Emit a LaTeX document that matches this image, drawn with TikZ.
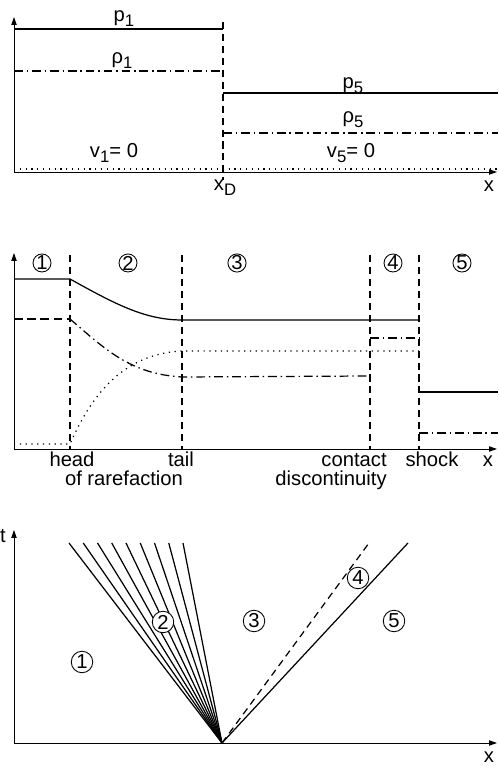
\documentclass[tikz,border=0pt]{standalone}
\usepackage{fontspec}
\setmainfont{Liberation Sans}
\usetikzlibrary{arrows.meta}
\newcommand{\lowsub}[1]{\raisebox{-0.45ex}{\fontsize{9.5}{11}\selectfont#1}}
\tikzset{
  sod/axis/.style={-{Triangle[length=4.5pt,width=3pt]}, line width=0.5pt},
  sod/pres/.style={line width=0.7pt},
  sod/dens/.style={line width=0.7pt,
    dash pattern=on 5pt off 2.2pt on 0.8pt off 2.2pt},
  sod/ldash/.style={line width=0.7pt, dash pattern=on 5pt off 2.5pt},
  sod/vel/.style={line width=0.7pt, dash pattern=on 0.7pt off 2.6pt},
  sod/front/.style={line width=0.7pt, dash pattern=on 4pt off 2.8pt},
  sod/reg/.style={circle, draw, line width=0.5pt, inner sep=0pt,
    minimum size=3.6mm, font=\fontsize{11.5}{13}\selectfont},
  sod/regb/.style={sod/reg, minimum size=4.3mm, fill=white},
  sod/lbl/.style={anchor=base, inner sep=0pt,
    font=\fontsize{11.5}{13}\selectfont}
}

\begin{document}
\begin{tikzpicture}[x=0.2mm, y=0.2mm]
  \useasboundingbox (0,0) rectangle (498,769);

  % initial state
  \coordinate (o1) at (14,597);
  \draw[sod/axis] (o1) -- (14,752);
  \draw[sod/axis] (o1) -- (497,597);
  \draw[sod/front] (223,747) -- (223,589);
  \draw[sod/pres] (14,740) -- (223,740);
  \draw[sod/pres] (223,676) -- (498,676);
  \draw[sod/dens] (14,698) -- (223,698);
  \draw[sod/dens] (223,636) -- (498,636);
  \draw[sod/vel] (14,600) -- (498,600);
  \node[sod/lbl] (p1) at (124,747) {p\lowsub{1}};
  \node[sod/lbl] (r1) at (122,705) {ρ\lowsub{1}};
  \node[sod/lbl] (p5) at (353,680) {p\lowsub{5}};
  \node[sod/lbl] (r5) at (353,646) {ρ\lowsub{5}};
  \node[sod/lbl] (v1) at (114,611) {v\lowsub{1}= 0};
  \node[sod/lbl] (v5) at (351,611) {v\lowsub{5}= 0};
  \node[sod/lbl] (xd) at (225,578) {x\lowsub{D}};
  \node[sod/lbl] (x1) at (489,577) {x};

  % profiles at t > 0
  \coordinate (o2) at (14,320);
  \draw[sod/axis] (o2) -- (14,516);
  \draw[sod/axis] (o2) -- (497,320);
  \foreach \xx in {70,182,370,419}
    \draw[sod/front] (\xx,514) -- (\xx,320);
  \draw[sod/pres] (14,490) -- (70,490)
    .. controls (115,465) and (145,449) .. (182,449) -- (419,449);
  \draw[sod/pres] (419,377) -- (498,377);
  \draw[sod/ldash] (14,450) -- (70,450);
  \draw[sod/dens] (70,450) .. controls (105,420) and (130,395) .. (182,392)
    -- (370,393);
  \draw[sod/dens] (370,431) -- (419,431);
  \draw[sod/dens] (419,336) -- (498,336);
  \draw[sod/vel] (14,325) -- (70,325)
    .. controls (90,370) and (120,415) .. (182,418) -- (419,418);
  \node[sod/reg] (m1) at (42,506) {1};
  \node[sod/reg] (m2) at (128,506) {2};
  \node[sod/reg] (m3) at (237,506) {3};
  \node[sod/reg] (m4) at (393,506) {4};
  \node[sod/reg] (m5) at (462,506) {5};
  \node[sod/lbl] (head) at (72,302) {head};
  \node[sod/lbl] (rare) at (124,283) {of rarefaction};
  \node[sod/lbl] (tail) at (181,302) {tail};
  \node[sod/lbl, anchor=base east] (cont) at (387,302) {contact};
  \node[sod/lbl, anchor=base east] (disc) at (387,283) {discontinuity};
  \node[sod/lbl] (shock) at (432,302) {shock};
  \node[sod/lbl] (x2) at (488,302) {x};

  % x-t plane
  \coordinate (o3) at (14,26);
  \coordinate (c0) at (222,26);
  \draw[sod/axis] (o3) -- (14,239);
  \draw[sod/axis] (o3) -- (497,26);
  \foreach \i in {0,...,8}
    \draw[sod/pres] (c0) -- ({69+14.25*\i},226);
  \draw[sod/front] (c0) -- (369,226);
  \draw[sod/pres] (c0) -- (408,226);
  \node[sod/regb] (b1) at (82,107) {1};
  \node[sod/regb] (b2) at (163,147) {2};
  \node[sod/regb] (b3) at (254,148) {3};
  \node[sod/regb] (b4) at (358,191) {4};
  \node[sod/regb] (b5) at (394,148) {5};
  \node[sod/lbl] (t) at (3,226) {t};
  \node[sod/lbl] (x3) at (489,7) {x};
\end{tikzpicture}
\end{document}
